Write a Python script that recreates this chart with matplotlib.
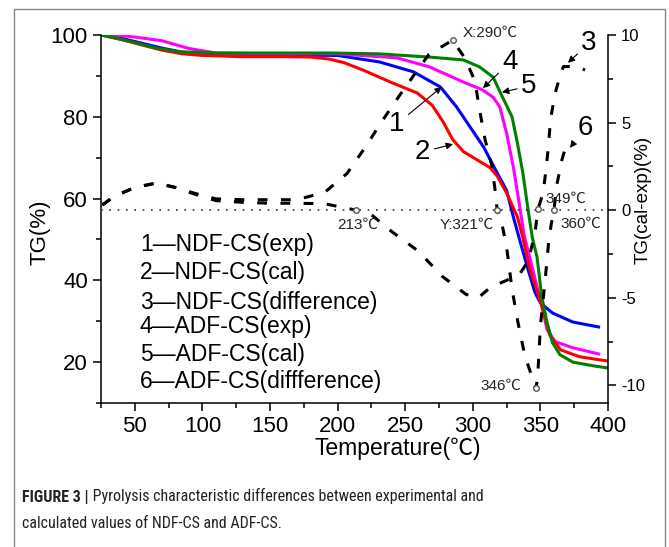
import matplotlib
matplotlib.use('Agg')
import matplotlib.pyplot as plt
from matplotlib import font_manager
from matplotlib.patches import Rectangle
from matplotlib.ticker import MultipleLocator

plt.rcParams['font.family'] = ['Liberation Sans', 'Noto Sans CJK SC', 'DejaVu Sans']
plt.rcParams['axes.unicode_minus'] = False

# TG curves (left axis, %)
ndf_exp_x = [25, 40, 55, 70, 85, 100, 130, 160, 200, 231, 256, 276, 288, 298, 308, 318, 325, 330, 335, 341, 346, 350, 359, 374, 393]
ndf_exp_y = [100, 99.2, 98.0, 96.8, 95.8, 95.3, 95.1, 95.1, 95.0, 93.4, 91.0, 87.3, 82.4, 77.5, 72.6, 66.3, 62.0, 55.5, 49.5, 42.5, 37.0, 34.5, 32.0, 29.8, 28.6]

ndf_cal_x = [25, 40, 55, 70, 85, 100, 130, 160, 180, 194, 205, 219, 239, 259, 270, 278, 285, 293, 303, 313, 318, 325, 333, 337, 342, 350, 357, 365, 379, 399]
ndf_cal_y = [100, 98.9, 97.6, 96.3, 95.4, 95.0, 94.7, 94.7, 94.6, 94.1, 93.2, 91.4, 88.5, 85.8, 82.8, 78.8, 74.5, 71.5, 69.5, 67.5, 65.5, 61.4, 55.5, 50.5, 43.0, 35.0, 26.5, 23.0, 21.3, 20.3]

adf_exp_x = [25, 35, 50, 70, 90, 110, 150, 200, 244, 268, 293, 307, 315, 320, 325, 330, 334, 338, 344.5, 350, 355, 361, 374, 393]
adf_exp_y = [100, 100, 99.5, 98.6, 96.7, 95.6, 95.4, 95.4, 94.4, 92.2, 88.5, 86.6, 84.8, 82.4, 76.0, 67.7, 59.5, 51.0, 42.5, 35.2, 27.9, 25.0, 23.5, 22.0]

adf_cal_x = [25, 35, 48, 66, 83, 110, 194, 230, 268, 293, 305, 315, 322, 329, 333, 337, 341, 344, 347.5, 351, 355, 359, 364.5, 374, 389, 399]
adf_cal_y = [100, 99.3, 98.3, 96.8, 95.9, 95.6, 95.6, 95.4, 94.6, 93.9, 92.2, 89.7, 84.8, 80.0, 73.6, 66.3, 57.0, 50.5, 45.7, 36.0, 29.6, 24.7, 21.8, 20.0, 19.1, 18.6]

# difference curves (right axis, TG(cal-exp) %)
ndf_diff_x = [26, 35, 50, 66, 80, 95, 110, 130, 150, 170, 190, 205, 213.5, 225, 238, 260, 277, 295, 304, 313, 325, 335, 341, 346, 348.2, 352, 354, 356, 357.5, 361, 365, 367, 377, 383]
ndf_diff_y = [0.3, 0.8, 1.3, 1.55, 1.3, 0.9, 0.55, 0.45, 0.4, 0.4, 0.37, 0.15, 0.0, -0.25, -1.1, -2.35, -3.75, -4.8, -5.0, -4.4, -4.0, -3.6, -2.9, -1.3, 0.05, 1.0, 2.2, 3.7, 5.2, 6.7, 7.8, 8.2, 8.2, 8.0]

adf_diff_x = [26, 35, 50, 66, 80, 95, 110, 130, 150, 170, 190.6, 207, 221, 233, 245, 256, 267.6, 285, 294, 301.6, 304.6, 309, 314, 317, 318, 321.6, 325, 329, 333.4, 338.6, 344.5, 346.7, 348, 350, 353.5, 356, 358, 360, 362, 366, 369]
adf_diff_y = [0.3, 0.8, 1.3, 1.55, 1.3, 0.95, 0.65, 0.6, 0.6, 0.6, 1.03, 2.1, 3.66, 5.1, 6.46, 7.66, 8.9, 9.7, 8.7, 7.37, 5.9, 4.06, 2.57, 0.86, 0.0, -0.8, -2.1, -4.5, -6.4, -8.34, -9.66, -10.17, -9.5, -6.6, -4.0, -1.9, -0.8, 0.0, 1.4, 2.9, 3.7]

# marked points
mark_x = [285, 318, 346.7, 348.2, 360, 213.5]
mark_y = [9.7, 0.0, -10.17, 0.05, 0.0, 0.0]
mark_text = ['X:290℃', 'Y:321℃', '346℃', '349℃', '360℃', '213℃']
mark_text_x = [292.7, 275.7, 305.3, 353.4, 364.5, 199.5]
mark_text_y = [10.1, -0.83, -10.0, 0.66, -0.77, -0.83]

legend_lines = ['1—NDF-CS(exp)', '2—NDF-CS(cal)', '3—NDF-CS(difference)',
                '4—ADF-CS(exp)', '5—ADF-CS(cal)', '6—ADF-CS(diffference)']
legend_y = [48.7, 41.8, 34.7, 28.6, 21.8, 15.2]

caption_bold = 'FIGURE 3 |'
caption_1 = ' Pyrolysis characteristic differences between experimental and'
caption_2 = 'calculated values of NDF-CS and ADF-CS.'


def pick_narrow_font():
    for name in ['Liberation Sans Narrow', 'Roboto Condensed', 'Open Sans Condensed',
                 'Noto Sans Condensed', 'DejaVu Sans Condensed', 'Arial Narrow']:
        try:
            font_manager.findfont(font_manager.FontProperties(family=name),
                                  fallback_to_default=False)
            return name
        except ValueError:
            pass
    return 'Liberation Sans'


fig = plt.figure(figsize=(6.69, 5.47), dpi=100)
ax = fig.add_axes([101/669, 1-403/547, 507/669, 368/547])
ax2 = ax.twinx()

lw = 2.2
ax.plot(ndf_exp_x, ndf_exp_y, color='#0000ff', lw=lw)
ax.plot(adf_exp_x, adf_exp_y, color='#ff00ff', lw=lw)
ax.plot(ndf_cal_x, ndf_cal_y, color='#ff0000', lw=lw)
ax.plot(adf_cal_x, adf_cal_y, color='#008000', lw=lw)

dash = (0, (3.2, 4.4))
ax2.plot(ndf_diff_x, ndf_diff_y, color='black', lw=lw, linestyle=dash)
ax2.plot(adf_diff_x, adf_diff_y, color='black', lw=lw, linestyle=dash)
ax2.plot([25, 400], [0, 0], color='#333333', lw=1.2, linestyle=(0, (1, 4)))
ax2.plot(mark_x, mark_y, 'o', ms=4, mfc='white', mec='#555555', mew=1, linestyle='none')
for t, x, y in zip(mark_text, mark_text_x, mark_text_y):
    ax2.text(x, y, t, fontsize=11, ha='left', va='center', color='#222222')

ax.set_xlim(25, 400)
ax.set_ylim(10, 100)
ax2.set_ylim(-11, 10)

for t, y in zip(legend_lines, legend_y):
    ax.text(53.7, y, t, fontsize=16.5, ha='left', va='center')

arr = dict(arrowstyle='-|>', lw=0.8, color='black', mutation_scale=10, shrinkA=1, shrinkB=0)
ax.annotate('1', xy=(277, 87.3), xytext=(243.9, 78.2), fontsize=20, ha='center', va='center', arrowprops=arr)
ax.annotate('2', xy=(285.3, 73.3), xytext=(263, 71.4), fontsize=20, ha='center', va='center', arrowprops=arr)
ax.annotate('3', xy=(370.4, 93.2), xytext=(386, 98), fontsize=20, ha='center', va='center', arrowprops=arr)
ax.annotate('4', xy=(307.5, 87.0), xytext=(327.5, 93.4), fontsize=20, ha='center', va='center', arrowprops=arr)
ax.annotate('5', xy=(321.6, 86.0), xytext=(341.6, 87.5), fontsize=20, ha='center', va='center', arrowprops=arr)
ax.annotate('6', xy=(371.9, 72.4), xytext=(383, 77.3), fontsize=20, ha='center', va='center', arrowprops=arr)

ax.xaxis.set_major_locator(MultipleLocator(50))
ax.xaxis.set_minor_locator(MultipleLocator(25))
ax.yaxis.set_major_locator(MultipleLocator(20))
ax.yaxis.set_minor_locator(MultipleLocator(10))
ax2.yaxis.set_major_locator(MultipleLocator(5))
ax2.yaxis.set_minor_locator(MultipleLocator(2.5))
ax.set_yticks([20, 40, 60, 80, 100])

for a in (ax, ax2):
    a.spines['top'].set_visible(False)
    for s in a.spines.values():
        s.set_linewidth(1.1)
    a.tick_params(which='major', direction='out', length=6, width=1.1)
    a.tick_params(which='minor', direction='out', length=3.5, width=1.1)
ax.spines['right'].set_visible(False)
ax2.spines['left'].set_visible(False)
ax2.spines['bottom'].set_visible(False)
ax.tick_params(axis='both', labelsize=16)
ax2.tick_params(axis='y', labelsize=12)

ax.set_xlabel('Temperature(℃)', fontsize=16.5)
ax.xaxis.set_label_coords(0.586, -0.093)
ax.set_ylabel('TG(%)', fontsize=16)
ax.yaxis.set_label_coords(-0.10, 0.465)
ax2.set_ylabel('TG(cal-exp)(%)', fontsize=13.5)
ax2.yaxis.set_label_coords(1.053, 0.552)

# outer frame and caption
fig.add_artist(Rectangle((13.5/669, -0.02), 651/669, 1.02 - 8.5/547,
                         transform=fig.transFigure, fill=False, ec='#888888', lw=1))
cap_font = [pick_narrow_font(), 'Liberation Sans']
t1 = fig.text(22/669, 1-497/547, caption_bold, family=cap_font, fontsize=13,
              fontweight='bold', va='center', ha='left', color='#222222')
t2 = ax.annotate(caption_1, xy=(1, 0), xycoords=t1, va='bottom', ha='left', fontsize=13,
                 family=cap_font, color='#222222', annotation_clip=False)
t3 = fig.text(22/669, 1-523/547, caption_2, family=cap_font,
              fontsize=13, va='center', ha='left', color='#222222')

# shrink caption so the first line ends where it does in the figure
fig.canvas.draw()
r = fig.canvas.get_renderer()
right = t2.get_window_extent(r).x1
scale = (483 - 22) / (right - 22)
if scale < 1:
    for t in (t1, t2, t3):
        t.set_fontsize(13 * scale)

fig.savefig('out.png', dpi=100)
